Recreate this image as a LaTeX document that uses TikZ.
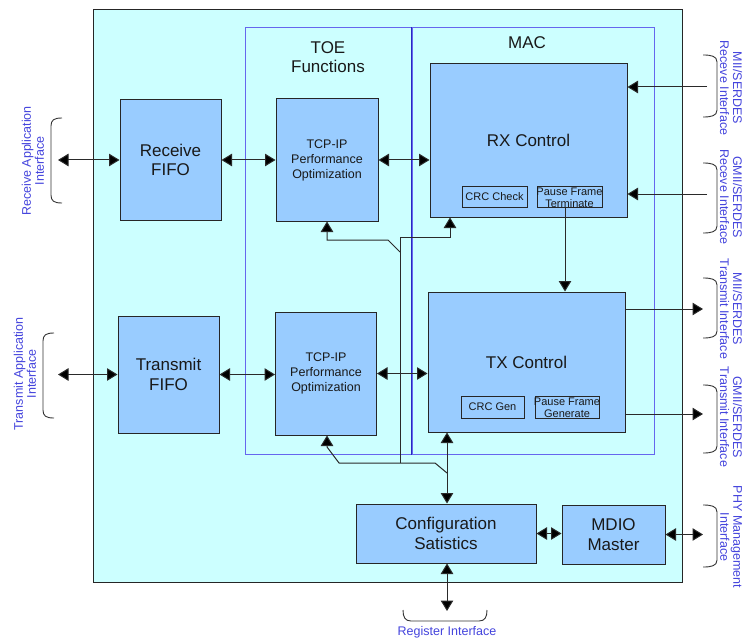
\documentclass[tikz,border=0pt]{standalone}
\usepackage{fontspec}
\setmainfont{Liberation Sans}
\usetikzlibrary{arrows.meta}
\definecolor{bgcyan}{HTML}{CCFFFF}
\definecolor{boxblue}{HTML}{99CCFF}
\definecolor{lblue}{HTML}{4444DD}
\definecolor{frameblue}{HTML}{6666EE}
\definecolor{divblue}{HTML}{2828C0}
\definecolor{wire}{HTML}{2A2A2A}
\begin{document}
\begin{tikzpicture}[x=1pt,y=-1pt,
  blk/.style={draw=black!85, fill=boxblue, line width=1pt, inner sep=0pt, align=center, text=black!90},
  big/.style={font=\fontsize{17}{19.5}\selectfont, align=center, text=black!90},
  mid/.style={font=\fontsize{12.5}{15}\selectfont},
  sml/.style={font=\fontsize{11}{11.6}\selectfont, align=center, text=black!90},
  wirestyle/.style={draw=wire, line width=1pt},
  arr/.style={wirestyle, -{Triangle[length=10.5pt,width=12.5pt,fill=black]}},
  dbl/.style={wirestyle, {Triangle[length=10.5pt,width=12.5pt,fill=black]}-{Triangle[length=10.5pt,width=12.5pt,fill=black]}},
  brace/.style={draw=black!80, line width=0.9pt},
  iflabel/.style={text=lblue, font=\fontsize{12.5}{13}\selectfont, align=center, inner sep=0pt},
  frame/.style={draw=frameblue, line width=1pt, inner sep=0pt}]
\useasboundingbox (0,0) rectangle (743,639);
\fill[white] (0,0) rectangle (743,639);
% chip
\node[draw=black!85, fill=bgcyan, line width=1pt, minimum width=589pt, minimum height=572pt, inner sep=0pt] (chip) at (387.5,296) {};
% TOE / MAC frames
\node[frame, minimum width=166pt, minimum height=426pt] (toe) at (328,241) {};
\node[frame, minimum width=242pt, minimum height=426pt] (mac) at (533,241) {};
\draw[divblue, line width=1.6pt] (toe.north east) -- (toe.south east);
\node[big] (toelbl) at (328,57) {TOE\\Functions};
\node[big] (maclbl) at (527,43) {MAC};
% blocks
\node[blk, big, minimum width=101pt, minimum height=120pt] (rxfifo) at (170.5,160) {Receive\\FIFO};
\node[blk, big, minimum width=101pt, minimum height=117pt] (txfifo) at (168.5,374.5) {Transmit\\FIFO};
\node[blk, mid, minimum width=102pt, minimum height=122pt] (tcp1) at (327,160) {TCP-IP\\Performance\\Optimization};
\node[blk, mid, minimum width=101pt, minimum height=123pt] (tcp2) at (326,373.5) {TCP-IP\\Performance\\Optimization};
\node[blk, big, minimum width=197pt, minimum height=153pt] (rx) at (528.5,140.5) {RX Control};
\node[blk, big, minimum width=197pt, minimum height=140pt] (tx) at (526.5,362) {TX Control};
\node[blk, minimum width=65pt, minimum height=21pt, label={[sml]center:CRC Check}] (crcchk) at (494.5,196.5) {};
\node[blk, minimum width=65pt, minimum height=21pt, label={[sml, yshift=-1pt]center:Pause Frame\\Terminate}] (pft) at (569.5,196.5) {};
\node[blk, minimum width=63pt, minimum height=22pt, label={[sml]center:CRC Gen}] (crcgen) at (492.5,407) {};
\node[blk, minimum width=64pt, minimum height=22pt, label={[sml, yshift=-1pt]center:Pause Frame\\Generate}] (pfg) at (567,407) {};
\node[blk, big, minimum width=180pt, minimum height=59pt] (cfg) at (446,533.5) {Configuration\\Satistics};
\node[blk, big, minimum width=103pt, minimum height=59pt] (mdio) at (613.5,534.5) {MDIO\\Master};
% external coordinates
\coordinate (rxapp) at (58,160);
\coordinate (txapp) at (58,374.5);
\coordinate (rxin1) at (707,87);
\coordinate (rxin2) at (707,194);
\coordinate (txo1) at (703,309);
\coordinate (txo2) at (703,414);
\coordinate (phy) at (703,534.5);
\coordinate (busx) at (447,0);
\coordinate (pfx) at (565,0);
\coordinate (reg) at (447,611);
% main data path
\draw[dbl] (rxapp) -- (rxapp -| rxfifo.west);
\draw[dbl] (txapp) -- (txapp -| txfifo.west);
\draw[dbl] (rxfifo.east) -- (rxfifo.east -| tcp1.west);
\draw[dbl] (tcp1.east) -- (tcp1.east -| rx.west);
\draw[dbl] (txfifo.east) -- (txfifo.east -| tcp2.west);
\draw[dbl] (tcp2.east) -- (tcp2.east -| tx.west);
\draw[arr] (rxin1) -- (rxin1 -| rx.east);
\draw[arr] (rxin2) -- (rxin2 -| rx.east);
\draw[arr] (txo1 -| tx.east) -- (txo1);
\draw[arr] (txo2 -| tx.east) -- (txo2);
\draw[arr] (pft.south -| pfx) -- (tx.north -| pfx);
\draw[dbl] (tx.south -| busx) -- (cfg.north -| busx);
\draw[dbl] (cfg.east) -- (cfg.east -| mdio.west);
\draw[dbl] (mdio.east) -- (phy);
\draw[dbl] (cfg.south -| reg) -- (reg);
% configuration wiring
\coordinate (ja) at (400,463);
\coordinate (jb) at (400,237);
\coordinate (jc) at (450,237);
\coordinate (jd) at (400,252);
\coordinate (je) at (388,240);
\coordinate (jf) at (327,240);
\coordinate (jg) at (447,473);
\coordinate (jh) at (435,463);
\coordinate (ji) at (339,463);
\coordinate (jj) at (327,447);
\draw[arr] (ja) -- (jb) -- (jc) -- (rx.south -| jc);
\draw[arr] (jd) -- (je) -- (jf) -- (tcp1.south -| jf);
\draw[arr] (jg) -- (jh) -- (ji) -- (jj) -- (tcp2.south -| jj);
% braces left
\draw[brace] (62,118) .. controls (54,118) and (51,120) .. (51,126) -- (51,195) .. controls (51,201) and (54,203) .. (62,203);
\draw[brace] (54,333) .. controls (46,333) and (43,335) .. (43,341) -- (43,410) .. controls (43,416) and (46,418) .. (54,418);
% braces right
\foreach \ya/\yb in {55/117, 163/233, 278/338, 385/453, 505/567}{
  \draw[brace] (703,\ya) .. controls (711,\ya) and (717,\ya+1) .. (717,\ya+7) -- (717,\yb-7) .. controls (717,\yb-1) and (711,\yb) .. (703,\yb);
}
% brace bottom
\draw[brace] (403,610) .. controls (403,617) and (405,621) .. (411,621) -- (479,621) .. controls (485,621) and (487,617) .. (487,610);
% interface labels
\node[iflabel, rotate=90] (lrx) at (33,161) {Receive Application\\Interface};
\node[iflabel, rotate=90] (ltx) at (25,374) {Transmit Application\\Interface};
\node[iflabel, rotate=-90] (lr1) at (731,88) {MII/SERDES\\Receve Interface};
\node[iflabel, rotate=-90] (lr2) at (731,197) {GMII/SERDES\\Receve Interface};
\node[iflabel, rotate=-90] (lt1) at (731,309) {MII/SERDES\\Transmit Interface};
\node[iflabel, rotate=-90] (lt2) at (731,417) {GMII/SERDES\\Transmit Interface};
\node[iflabel, rotate=-90] (lphy) at (731,537) {PHY Management\\Interface};
\node[iflabel] (lreg) at (447,632) {Register Interface};
\end{tikzpicture}
\end{document}
